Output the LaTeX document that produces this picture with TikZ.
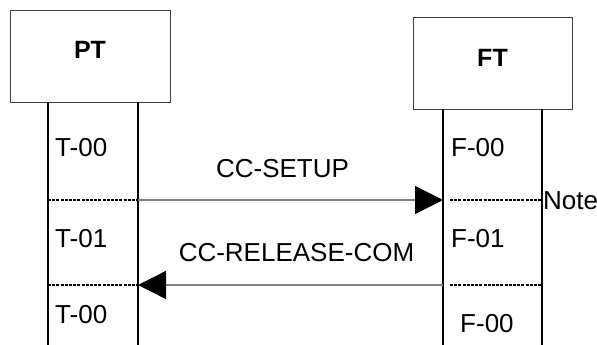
\documentclass[tikz,border=0pt]{standalone}
\usepackage{fontspec}
\setmainfont{Liberation Sans}
\usepackage{tikz}
\usetikzlibrary{arrows.meta}

\begin{document}
\begin{tikzpicture}
	 [x=1pt,y=-1pt,every node/.style={font=\fontsize{26}{30}\selectfont,inner sep=0pt},
	  box/.style={draw=black!75,line width=1pt,minimum width=160pt,minimum height=91pt},
	  head/.style={font=\fontsize{25}{30}\selectfont\bfseries},
	  state/.style={anchor=west},
	  life/.style={line width=2pt},
	  sep/.style={line width=1.2pt,dash pattern=on 3pt off 1.2pt},
	  msg/.style={draw=black!50,line width=1.3pt,-{Triangle[length=28pt,width=28pt,color=black]}}]
	\useasboundingbox (0,0) rectangle (597,345);

%	entities
	  \node[box] (PT) at (90,56.5) {};
	  \node[head] (PTl) at (90,50) {PT};
	  \node[box,minimum width=159pt] (FT) at (492.5,63.5) {};
	  \node[head] (FTl) at (492.5,57.5) {FT};

%	lifelines
	  \coordinate (p1) at (48,102);
	  \coordinate (p2) at (138,102);
	  \coordinate (p1e) at (48,345);
	  \coordinate (p2e) at (138,345);
	  \coordinate (f1) at (443,109);
	  \coordinate (f2) at (542,109);
	  \coordinate (f1e) at (443,345);
	  \coordinate (f2e) at (542,345);

	\foreach \from/\to in {p1/p1e,p2/p2e,f1/f1e,f2/f2e}
    \draw[life] (\from) -- (\to);

%	state borders
	  \coordinate (pa) at (48,200);
	  \coordinate (pb) at (138,200);
	  \coordinate (fa) at (443,200);
	  \coordinate (fa1) at (450,200);
	  \coordinate (fb) at (542,200);
	  \coordinate (pc) at (48,285);
	  \coordinate (pd) at (138,285);
	  \coordinate (fc) at (443,285);
	  \coordinate (fc1) at (450,285);
	  \coordinate (fd) at (542,285);

	\foreach \from/\to in {pa/pb,fa1/fb,pc/pd,fc1/fd}
    \draw[sep] (\from) -- (\to);

%	messages
	\draw[msg] (pb) -- (fa);
	\draw[msg] (fc) -- (pd);

	  \node (setup) at (282.5,169) {CC-SETUP};
	  \node (rel) at (296.5,253) {CC-RELEASE-COM};

%	states
	  \node[state] (t0) at (55,148) {T-00};
	  \node[state] (t1) at (55,239) {T-01};
	  \node[state] (t2) at (55,315) {T-00};
	  \node[state] (f0) at (451,148) {F-00};
	  \node[state] (fs1) at (451,239) {F-01};
	  \node[state] (fs2) at (460,324) {F-00};
	  \node[state] (note) at (543,201) {Note};

\end{tikzpicture}
\end{document}
